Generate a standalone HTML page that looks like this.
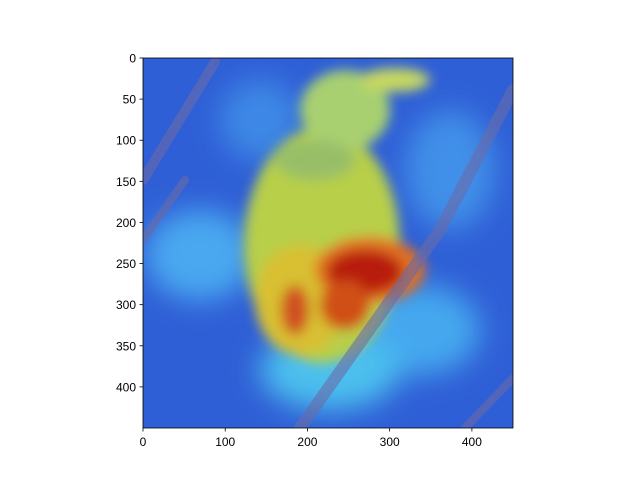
<!DOCTYPE html>
<html><head><meta charset="utf-8"><style>
body{margin:0;background:#fff;}
svg{display:block;font-family:"Liberation Sans",sans-serif;}
</style></head><body>
<svg width="640" height="480">
<defs>
<filter id="b1" x="-50%" y="-50%" width="200%" height="200%"><feGaussianBlur stdDeviation="14"/></filter>
<filter id="b2" x="-50%" y="-50%" width="200%" height="200%"><feGaussianBlur stdDeviation="6"/></filter>
<clipPath id="cp"><rect x="143" y="58" width="370" height="370"/></clipPath>
</defs>
<g clip-path="url(#cp)">
<rect x="143" y="58" width="370" height="370" fill="#2f5fd6"/>
<g filter="url(#b1)">
<ellipse cx="200" cy="255" rx="55" ry="45" fill="#4aa8f0"/>
<ellipse cx="450" cy="170" rx="45" ry="60" fill="#3f8fe8"/>
<ellipse cx="420" cy="330" rx="60" ry="45" fill="#44a8ef"/>
<ellipse cx="330" cy="370" rx="70" ry="40" fill="#4cc0ee"/>
<ellipse cx="260" cy="120" rx="40" ry="40" fill="#3c88e6"/>
</g>
<g filter="url(#b2)">
<ellipse cx="322" cy="245" rx="78" ry="118" fill="#b8cf48"/>
<ellipse cx="345" cy="110" rx="45" ry="40" fill="#a8d070"/>
<ellipse cx="395" cy="80" rx="35" ry="12" fill="#c8d860"/>
<ellipse cx="300" cy="300" rx="45" ry="55" fill="#d8c030"/>
<ellipse cx="370" cy="270" rx="55" ry="33" fill="#e07020"/>
<ellipse cx="365" cy="272" rx="38" ry="22" fill="#b81a10"/>
<ellipse cx="295" cy="310" rx="14" ry="25" fill="#d05020"/>
<ellipse cx="345" cy="305" rx="25" ry="25" fill="#d05018"/>
<ellipse cx="315" cy="160" rx="40" ry="20" fill="#98bf68"/>
</g>
<g stroke="#6a6aa8" stroke-linecap="round" fill="none" opacity="0.6">
<path d="M143 180 L215 62" stroke-width="10"/>
<path d="M143 240 L185 180" stroke-width="8"/>
<path d="M300 428 L440 230 L513 90" stroke-width="12"/>
<path d="M465 428 L513 378" stroke-width="8"/>
</g>
</g>
<g id="axes" stroke="#000" fill="none">
<rect x="143" y="58" width="370" height="370" stroke-width="0.8"/>
</g>
<g id="ticks"></g>
</svg>
<script>
const xTicks=[0,100,200,300,400];
const yTicks=[0,50,100,150,200,250,300,350,400];
const imgSize=450;
const x0=143,y0=58,w=370;
function sx(v){return x0+v*w/imgSize;}
function sy(v){return y0+v*w/imgSize;}
const g=document.getElementById('ticks');
const ns='http://www.w3.org/2000/svg';
xTicks.forEach(v=>{
 const l=document.createElementNS(ns,'line');
 l.setAttribute('x1',sx(v));l.setAttribute('x2',sx(v));l.setAttribute('y1',428);l.setAttribute('y2',431.5);
 l.setAttribute('stroke','#000');l.setAttribute('stroke-width','0.8');
 
 
 g.appendChild(l);
 const t=document.createElementNS(ns,'text');
 t.setAttribute('x',sx(v));t.setAttribute('y',446);t.setAttribute('text-anchor','middle');t.setAttribute('font-size','12');
 t.textContent=v;
 
 
 g.appendChild(t);
});
yTicks.forEach(v=>{
 const l=document.createElementNS(ns,'line');
 l.setAttribute('x1',139.5);l.setAttribute('x2',143);l.setAttribute('y1',sy(v));l.setAttribute('y2',sy(v));
 l.setAttribute('stroke','#000');l.setAttribute('stroke-width','0.8');
 
 
 g.appendChild(l);
 const t=document.createElementNS(ns,'text');
 t.setAttribute('x',136);t.setAttribute('y',sy(v)+4.5);t.setAttribute('text-anchor','end');t.setAttribute('font-size','12');
 t.textContent=v;
 
 
 g.appendChild(t);
});
</script>
</body></html>
